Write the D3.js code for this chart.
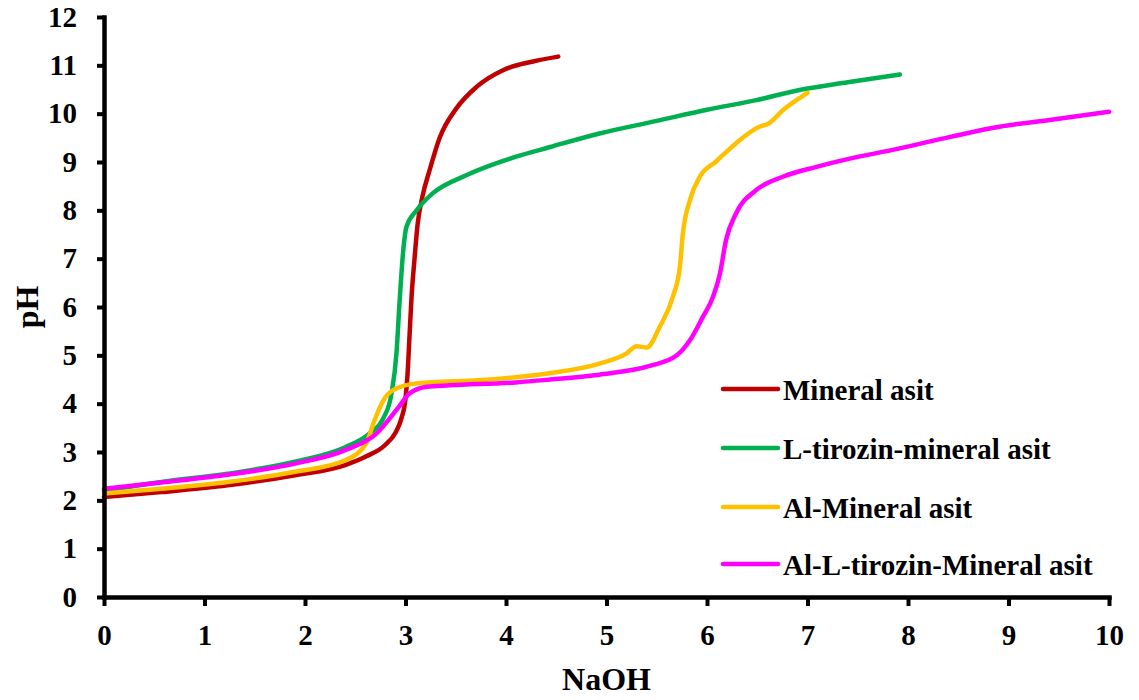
<!DOCTYPE html>
<html>
<head>
<meta charset="utf-8">
<script src="https://cdn.jsdelivr.net/npm/d3@7"></script>
<style>
  html, body { margin: 0; padding: 0; background: #fff; }
  svg { display: block; }
  text { font-family: "Liberation Serif", "Times New Roman", serif; font-weight: bold; fill: #000; }
</style>
</head>
<body>
<svg id="chart" width="1139" height="700"></svg>
<script>
// ---- Data ----
const seriesNames = ["Mineral asit", "L-tirozin-mineral asit", "Al-Mineral asit", "Al-L-tirozin-Mineral asit"];
const seriesColors = ["#C00000", "#00B050", "#FFC000", "#FF00FF"];

const mineralX = [0, 0.57, 1.23, 1.9, 2.4, 2.6, 2.8, 2.9, 2.96, 3.0, 3.02, 3.04, 3.06, 3.09, 3.12, 3.17, 3.24, 3.34, 3.51, 3.71, 3.97, 4.27, 4.52];
const mineralY = [2.07, 2.17, 2.31, 2.52, 2.73, 2.9, 3.15, 3.4, 3.7, 4.1, 4.6, 5.4, 6.2, 7.0, 7.7, 8.3, 8.83, 9.5, 10.12, 10.56, 10.9, 11.08, 11.18];

const tyrX = [0, 0.57, 1.23, 1.9, 2.4, 2.64, 2.78, 2.86, 2.91, 2.94, 2.975, 3.01, 3.11, 3.27, 3.61, 4.1, 4.44, 4.93, 5.5, 6.0, 6.49, 6.92, 7.4, 7.92];
const tyrY = [2.2, 2.38, 2.55, 2.8, 3.1, 3.38, 3.7, 4.2, 5.04, 6.07, 7.11, 7.66, 8.0, 8.35, 8.73, 9.11, 9.31, 9.59, 9.85, 10.08, 10.28, 10.49, 10.65, 10.81];

const alX = [0, 0.57, 1.23, 1.9, 2.4, 2.61, 2.68, 2.78, 2.876, 3.11, 3.77, 4.43, 4.93, 5.2, 5.3, 5.4, 5.53, 5.66, 5.73, 5.76, 5.83, 5.93, 6.09, 6.29, 6.52, 6.61, 6.76, 6.89, 7.0];
const alY = [2.14, 2.24, 2.38, 2.59, 2.83, 3.18, 3.59, 4.07, 4.28, 4.42, 4.49, 4.63, 4.83, 5.04, 5.19, 5.16, 5.59, 6.21, 6.83, 7.52, 8.21, 8.70, 9.01, 9.39, 9.73, 9.79, 10.08, 10.28, 10.43];

const alTyrX = [0, 0.57, 1.23, 1.9, 2.4, 2.71, 2.91, 3.04, 3.21, 3.44, 4.1, 4.44, 4.93, 5.43, 5.7, 5.83, 5.96, 6.06, 6.13, 6.19, 6.29, 6.49, 6.76, 7.09, 7.42, 7.85, 8.42, 8.91, 9.41, 10.0];
const alTyrY = [2.24, 2.37, 2.53, 2.76, 3.04, 3.38, 3.87, 4.21, 4.35, 4.38, 4.44, 4.5, 4.6, 4.78, 5.00, 5.31, 5.80, 6.21, 6.70, 7.39, 7.94, 8.42, 8.70, 8.90, 9.07, 9.25, 9.52, 9.73, 9.87, 10.04];

const xTicks = [0, 1, 2, 3, 4, 5, 6, 7, 8, 9, 10];
const yTicks = [0, 1, 2, 3, 4, 5, 6, 7, 8, 9, 10, 11, 12];
const xTitle = "NaOH";
const yTitle = "pH";

// ---- Build ----
const seriesX = [mineralX, tyrX, alX, alTyrX];
const seriesY = [mineralY, tyrY, alY, alTyrY];
const series = seriesNames.map((name, i) => ({
  name, color: seriesColors[i],
  points: seriesX[i].map((x, j) => ({ x, y: seriesY[i][j] }))
}));

const svg = d3.select("#chart");
const plotLeft = 104, plotRight = 1109, plotTop = 17, plotBottom = 597;

const x = d3.scaleLinear().domain([0, 10]).range([plotLeft, plotRight]);
const y = d3.scaleLinear().domain([0, 12]).range([plotBottom, plotTop]);

// Lines
const line = d3.line().x(d => x(d.x)).y(d => y(d.y)).curve(d3.curveMonotoneX);
svg.append("g").selectAll("path").data(series).join("path")
  .attr("d", d => line(d.points))
  .attr("fill", "none")
  .attr("stroke", d => d.color)
  .attr("stroke-width", 4.5)
  .attr("stroke-linecap", "round")
  .attr("stroke-linejoin", "round");

// Axes
const xAxis = d3.axisBottom(x).tickValues(xTicks).tickFormat(d3.format("d"))
  .tickSizeInner(9).tickSizeOuter(0).tickPadding(18);
const yAxis = d3.axisLeft(y).tickValues(yTicks).tickFormat(d3.format("d"))
  .tickSizeInner(7).tickSizeOuter(0).tickPadding(20);

const gx = svg.append("g").attr("transform", `translate(0,${plotBottom})`).call(xAxis);
const gy = svg.append("g").attr("transform", `translate(${plotLeft},0)`).call(yAxis);

[gx, gy].forEach(g => {
  g.select(".domain").attr("stroke", "#000").attr("stroke-width", 4.5).attr("stroke-linecap", "square");
  g.selectAll(".tick line").attr("stroke", "#000").attr("stroke-width", 4);
  g.selectAll(".tick text")
    .style("font-family", '"Liberation Serif", "Times New Roman", serif')
    .style("font-weight", "bold")
    .style("font-size", "29px")
    .attr("fill", "#000");
});

// Axis titles
svg.append("text")
  .attr("x", (plotLeft + plotRight) / 2).attr("y", 690)
  .attr("text-anchor", "middle")
  .style("font-size", "32px")
  .text(xTitle);

svg.append("text")
  .attr("transform", `translate(38,${(plotTop + plotBottom) / 2}) rotate(-90)`)
  .attr("text-anchor", "middle")
  .style("font-size", "32px")
  .text(yTitle);

// Legend
const legendY = [389, 448, 507, 564];
const lg = svg.append("g").selectAll("g").data(series).join("g")
  .attr("transform", (d, i) => `translate(723,${legendY[i]})`);
lg.append("line")
  .attr("x1", 0).attr("x2", 55).attr("y1", 0).attr("y2", 0)
  .attr("stroke", d => d.color).attr("stroke-width", 4.5).attr("stroke-linecap", "round");
lg.append("text")
  .attr("x", 60).attr("y", 11)
  .style("font-size", "29px")
  .text(d => d.name);
</script>
</body>
</html>
